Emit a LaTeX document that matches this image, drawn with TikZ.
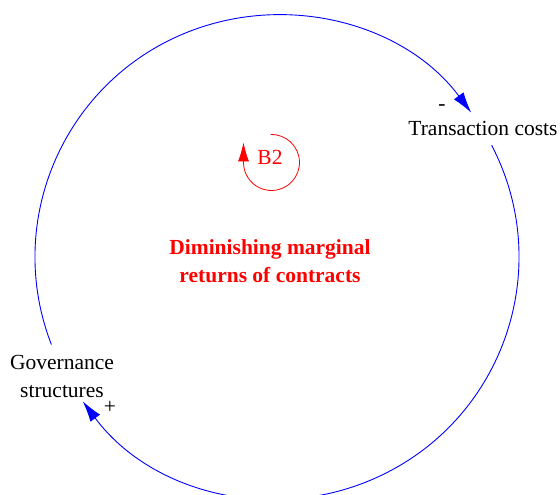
\documentclass[tikz,border=0pt]{standalone}
\usepackage{fontspec}
\setmainfont{Liberation Serif}
\usetikzlibrary{arrows.meta}
\begin{document}
\begin{tikzpicture}[x=1pt,y=1pt,
  varlabel/.style={inner sep=0pt, font=\fontsize{21.5}{28}\selectfont, align=center, text=black},
  polarity/.style={inner sep=0pt, font=\fontsize{21.5}{28}\selectfont, text=black},
  linkarc/.style={draw=blue, line width=0.9pt, -{Latex[length=21pt,width=12pt]}},
  looparc/.style={draw=red, line width=0.8pt, -{Latex[length=19pt,width=11pt]}},
  looptext/.style={inner sep=0pt, font=\fontsize{21.5}{28}\selectfont, text=red, align=center}]
  \useasboundingbox (0,0) rectangle (560,495);
  % centre of the big causal loop
  \coordinate (c) at (277,238);
  % variables
  \node[varlabel] (tc) at (483,367) {Transaction costs};
  \node[varlabel] (gs) at (62,119) {Governance\\structures};
  % polarities
  \node[polarity] (minus) at (442,387) {-};
  \node[polarity] (plus) at (110,88) {+};
  % causal links along the circle
  \draw[linkarc] ([shift={(201.2:242)}]c) arc[start angle=201.2, end angle=36.6, radius=242];
  \draw[linkarc] ([shift={(27.5:242)}]c) arc[start angle=27.5, end angle=-143.4, radius=242];
  % loop marker
  \coordinate (b) at (271.5,332.5);
  \node[looptext] (b2) at (270,338) {B2};
  \draw[looparc] ([shift={(92:28)}]b) arc[start angle=92, end angle=-180, radius=28] -- ++(0,20);
  % loop name
  \node[looptext, font=\fontsize{21.5}{28}\selectfont\bfseries] (name) at (270,234) {Diminishing marginal\\returns of contracts};
\end{tikzpicture}
\end{document}
